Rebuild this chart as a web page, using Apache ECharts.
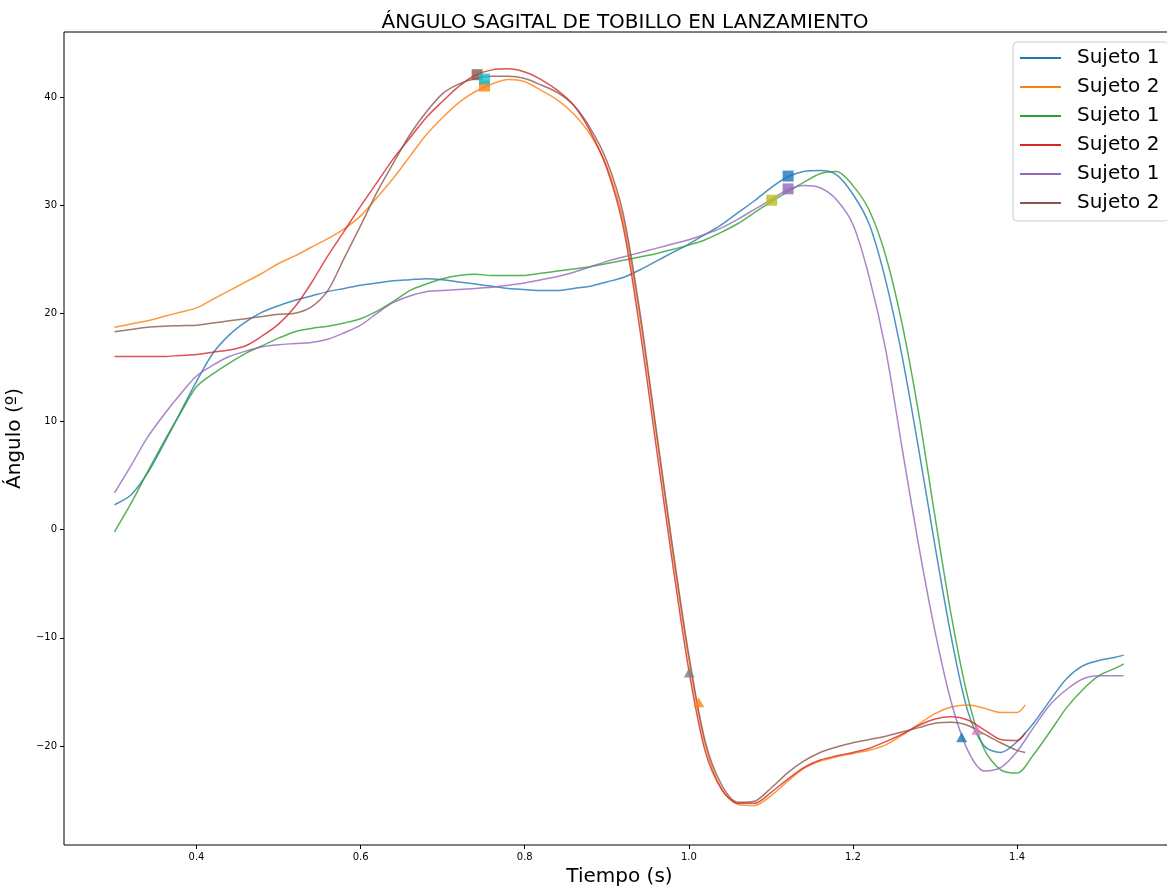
<!DOCTYPE html>
<html>
<head>
<meta charset="utf-8">
<title>Ángulo sagital de tobillo en lanzamiento</title>
<script src="https://cdn.jsdelivr.net/npm/echarts@6/dist/echarts.min.js"></script>
<style>
	html, body { margin: 0; padding: 0; background: #fff; }
	#chart { width: 1167px; height: 886px; }
</style>
</head>
<body>
<div id="chart"></div>
<script>
// tiempos (s) de cada grupo de curvas
var timesA = [0.30, 0.32, 0.34, 0.36, 0.38, 0.40, 0.42, 0.44, 0.46, 0.48, 0.50, 0.52, 0.54, 0.56, 0.58,
	0.60, 0.62, 0.64, 0.66, 0.68, 0.70, 0.72, 0.74, 0.76, 0.78, 0.80, 0.82, 0.84, 0.86, 0.88, 0.90,
	0.92, 0.94, 0.96, 0.98, 1.00, 1.02, 1.04, 1.06, 1.08, 1.10, 1.12, 1.14, 1.16, 1.18, 1.20, 1.22,
	1.24, 1.26, 1.28, 1.30, 1.32, 1.34, 1.36, 1.38, 1.40, 1.42, 1.44, 1.46, 1.48, 1.50, 1.52, 1.53];
var timesB = [0.30, 0.32, 0.34, 0.36, 0.38, 0.40, 0.42, 0.44, 0.46, 0.48, 0.50, 0.52, 0.54, 0.56, 0.58,
	0.60, 0.62, 0.64, 0.66, 0.68, 0.70, 0.72, 0.74, 0.76, 0.78, 0.80, 0.82, 0.84, 0.86, 0.88, 0.90,
	0.92, 0.94, 0.96, 0.98, 1.00, 1.02, 1.04, 1.06, 1.08, 1.10, 1.12, 1.14, 1.16, 1.18, 1.20, 1.22,
	1.24, 1.26, 1.28, 1.30, 1.32, 1.34, 1.36, 1.38, 1.40, 1.41];

// ángulos (º)
var blue = [2.3, 3.2, 5.2, 7.9, 10.8, 13.7, 16.3, 18.0, 19.2, 20.1, 20.7, 21.2, 21.6, 22.0, 22.3,
	22.6, 22.8, 23.0, 23.1, 23.2, 23.1, 22.9, 22.7, 22.5, 22.3, 22.2, 22.1, 22.1, 22.3, 22.5, 22.9,
	23.3, 24.0, 24.8, 25.6, 26.4, 27.3, 28.2, 29.3, 30.4, 31.6, 32.6, 33.1, 33.2, 32.8, 31.0, 28.2,
	23.0, 16.0, 7.5, -1.5, -10.0, -16.8, -20.0, -20.6, -19.6, -17.9, -15.8, -13.8, -12.6, -12.1, -11.8, -11.6];
var green = [-0.2, 2.4, 5.3, 8.1, 10.7, 13.2, 14.4, 15.4, 16.3, 17.0, 17.7, 18.3, 18.6, 18.8, 19.1,
	19.5, 20.2, 21.1, 22.1, 22.7, 23.2, 23.5, 23.6, 23.5, 23.5, 23.5, 23.7, 23.9, 24.1, 24.3, 24.6,
	24.9, 25.2, 25.5, 25.9, 26.3, 26.8, 27.5, 28.3, 29.3, 30.3, 31.2, 32.1, 32.9, 33.1, 31.8, 29.5,
	25.3, 19.0, 10.8, 1.2, -8.0, -15.5, -20.3, -22.2, -22.5, -20.8, -18.7, -16.5, -14.8, -13.5, -12.8, -12.4];
var purple = [3.4, 5.9, 8.5, 10.6, 12.5, 14.2, 15.2, 16.0, 16.5, 16.9, 17.1, 17.2, 17.3, 17.6, 18.2,
	18.9, 20.0, 21.0, 21.6, 22.0, 22.1, 22.2, 22.3, 22.4, 22.6, 22.8, 23.1, 23.4, 23.8, 24.3, 24.8,
	25.2, 25.6, 26.0, 26.4, 26.8, 27.3, 27.9, 28.7, 29.6, 30.5, 31.4, 31.8, 31.6, 30.5, 28.2, 23.3,
	16.6, 7.5, -1.4, -9.4, -16.0, -20.4, -22.3, -22.0, -20.5, -18.3, -16.2, -14.8, -13.8, -13.5, -13.5, -13.5];
var orange = [18.7, 19.0, 19.3, 19.7, 20.1, 20.5, 21.3, 22.1, 22.9, 23.7, 24.6, 25.3, 26.1, 26.9, 27.8,
	29.0, 30.7, 32.5, 34.5, 36.5, 38.1, 39.5, 40.5, 41.2, 41.6, 41.4, 40.6, 39.7, 38.4, 36.5, 33.6,
	28.6, 19.8, 9.0, -1.9, -12.0, -19.9, -24.0, -25.4, -25.5, -24.6, -23.3, -22.1, -21.4, -21.0, -20.7, -20.4,
	-19.9, -19.0, -18.0, -17.0, -16.4, -16.2, -16.5, -16.9, -16.9, -16.2];
var red = [16.0, 16.0, 16.0, 16.0, 16.1, 16.2, 16.4, 16.6, 17.0, 17.9, 19.0, 20.6, 22.8, 25.3, 27.6,
	29.9, 32.1, 34.3, 36.2, 38.1, 39.6, 41.0, 42.0, 42.5, 42.6, 42.3, 41.6, 40.6, 39.2, 36.8, 33.4,
	28.0, 18.7, 7.8, -3.0, -13.0, -20.5, -24.0, -25.3, -25.3, -24.3, -23.1, -22.0, -21.3, -20.9, -20.6, -20.2,
	-19.6, -18.9, -18.1, -17.5, -17.3, -17.6, -18.5, -19.4, -19.5, -18.8];
var brown = [18.3, 18.5, 18.7, 18.8, 18.85, 18.9, 19.1, 19.3, 19.5, 19.7, 19.9, 20.0, 20.6, 22.1, 25.1,
	28.1, 31.2, 33.9, 36.5, 38.6, 40.3, 41.2, 41.7, 41.9, 41.9, 41.7, 41.1, 40.4, 39.2, 37.1, 34.1,
	29.2, 20.3, 9.4, -1.5, -11.6, -19.6, -23.6, -25.2, -25.1, -23.9, -22.5, -21.4, -20.6, -20.1, -19.7, -19.4,
	-19.1, -18.7, -18.3, -17.9, -17.8, -18.1, -18.9, -19.7, -20.4, -20.6];

var seriesKeys   = ['s1a', 's2a', 's1b', 's2b', 's1c', 's2c'];
var legendLabels = ['Sujeto 1', 'Sujeto 2', 'Sujeto 1', 'Sujeto 2', 'Sujeto 1', 'Sujeto 2'];

// marcadores (máximos = cuadrado, eventos = triángulo)
var markerTimes  = [1.351, 1.0005, 1.101, 0.742, 0.751, 0.751, 1.121, 1.121, 1.3325, 1.012];
var markerValues = [-18.5, -13.2, 30.45, 42.05, 41.0, 41.65, 31.5, 32.68, -19.2, -15.95];
var markerShapes = ['triangle', 'triangle', 'rect', 'rect', 'rect', 'rect', 'rect', 'rect', 'triangle', 'triangle'];
var markerColors = ['#e377c2', '#7f7f7f', '#bcbd22', '#8c564b', '#ff7f0e', '#17becf', '#9467bd', '#1f77b4', '#1f77b4', '#ff7f0e'];

var xTicks = [0.4, 0.6, 0.8, 1.0, 1.2, 1.4];
var yTicks = [-20, -10, 0, 10, 20, 30, 40];

var lineColors = ['#1f77b4', '#ff7f0e', '#2ca02c', '#d62728', '#9467bd', '#8c564b'];
var FONT = 'DejaVu Sans';

function pairs(times, values) {
	var out = [];
	for (var i = 0; i < values.length; i++) {
		out.push([times[i], values[i]]);
	}
	return out;
}

function lineSerie(idx, times, values) {
	return {
		name: seriesKeys[idx],
		type: 'line',
		data: pairs(times, values),
		showSymbol: false,
		smooth: 0.3,
		z: 2,
		color: lineColors[idx],
		lineStyle: { width: 1.5, color: lineColors[idx], opacity: 0.8 },
		emphasis: { disabled: true }
	};
}

function markerSerie() {
	var data = [];
	for (var i = 0; i < markerTimes.length; i++) {
		var tri = markerShapes[i] == 'triangle';
		data.push({
			value: [markerTimes[i], markerValues[i]],
			symbol: markerShapes[i],
			symbolSize: tri ? [11, 10] : [11, 11],
			itemStyle: { color: markerColors[i] }
		});
	}
	return {
		name: 'marcas',
		type: 'scatter',
		z: 5,
		data: data,
		emphasis: { disabled: true }
	};
}

var myChart = echarts.init(document.getElementById('chart'), null, { renderer: 'canvas' });

var chartOption = {
	animation: false,
	backgroundColor: '#ffffff',
	textStyle: { fontFamily: FONT },
	title: {
		text: 'ÁNGULO SAGITAL DE TOBILLO EN LANZAMIENTO',
		left: 620,
		top: 8,
		textAlign: 'center',
		textStyle: { fontFamily: FONT, fontSize: 20, fontWeight: 'normal', color: '#000' }
	},
	legend: {
		data: seriesKeys,
		orient: 'vertical',
		left: 1013,
		top: 42,
		icon: 'rect',
		itemWidth: 41,
		itemHeight: 2,
		itemGap: 5,
		padding: [4, 9, 6, 7],
		backgroundColor: '#ffffff',
		borderColor: '#cccccc',
		borderWidth: 1,
		borderRadius: 4,
		formatter: function (name) {
			return legendLabels[seriesKeys.indexOf(name)];
		},
		textStyle: {
			fontFamily: FONT,
			fontSize: 20,
			color: '#000',
			lineHeight: 24,
			padding: [0, 0, 0, 11]
		}
	},
	grid: {
		left: 64,
		top: 32,
		width: 1111,
		height: 813,
		show: true,
		borderColor: '#000',
		borderWidth: 1,
		outerBoundsMode: 'none',
		containLabel: false
	},
	xAxis: {
		type: 'value',
		min: 0.2385,
		max: 1.5925,
		name: 'Tiempo (s)',
		nameLocation: 'middle',
		nameGap: 21,
		nameTextStyle: { fontFamily: FONT, fontSize: 20, color: '#000' },
		axisLine: { show: false, onZero: false },
		splitLine: { show: false },
		axisTick: { show: true, length: 4, customValues: xTicks, lineStyle: { color: '#000' } },
		axisLabel: {
			customValues: xTicks,
			margin: 7,
			fontSize: 10,
			color: '#000',
			fontFamily: FONT,
			formatter: function (v) { return v.toFixed(1); }
		}
	},
	yAxis: {
		type: 'value',
		min: -29.15,
		max: 46.0,
		name: 'Ángulo (º)',
		nameLocation: 'middle',
		nameGap: 30,
		nameTextStyle: { fontFamily: FONT, fontSize: 20, color: '#000' },
		axisLine: { show: false, onZero: false },
		splitLine: { show: false },
		axisTick: { show: true, length: 4, customValues: yTicks, lineStyle: { color: '#000' } },
		axisLabel: {
			customValues: yTicks,
			margin: 7,
			fontSize: 10,
			color: '#000',
			fontFamily: FONT,
			formatter: function (v) { return String(v).replace('-', '\u2212'); }
		}
	},
	series: [
		lineSerie(0, timesA, blue),
		lineSerie(1, timesB, orange),
		lineSerie(2, timesA, green),
		lineSerie(3, timesB, red),
		lineSerie(4, timesA, purple),
		lineSerie(5, timesB, brown),
		markerSerie()
	]
};

myChart.setOption(chartOption);
</script>
</body>
</html>
